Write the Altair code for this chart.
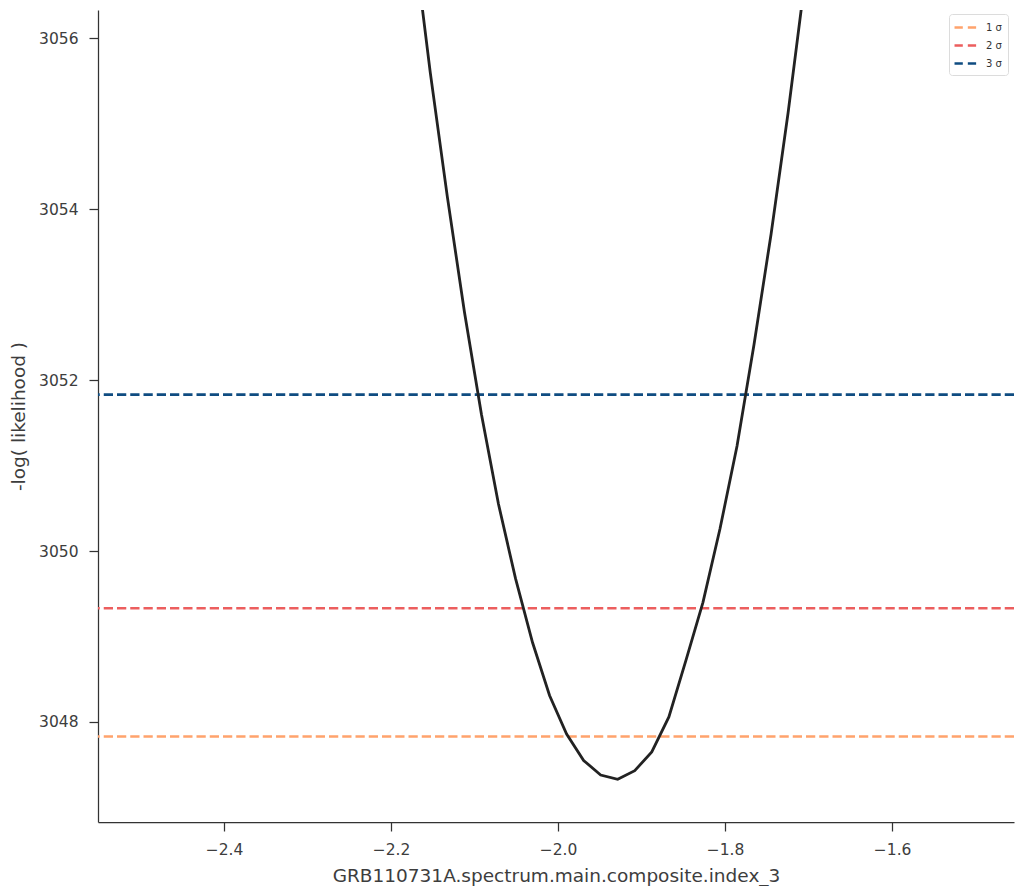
import altair as alt
import pandas as pd

# profile likelihood curve
index_3 = [-2.1735, -2.1531, -2.1327, -2.1122, -2.0918, -2.0714, -2.0510, -2.0306,
           -2.0102, -1.9898, -1.9694, -1.9490, -1.9286, -1.9082, -1.8878, -1.8673,
           -1.8469, -1.8265, -1.8061, -1.7857, -1.7653, -1.7449, -1.7245, -1.7041]
neg_log_like = [3057.21, 3055.60, 3054.15, 3052.80, 3051.60, 3050.55, 3049.68, 3048.93,
                3048.31, 3047.86, 3047.55, 3047.38, 3047.33, 3047.43, 3047.65, 3048.06,
                3048.72, 3049.40, 3050.26, 3051.23, 3052.42, 3053.71, 3055.13, 3056.70]

sigma_labels = ["1 σ", "2 σ", "3 σ"]
sigma_levels = [3047.83, 3049.33, 3051.83]
sigma_colors = ["#ffa36c", "#ec5e5e", "#0f4c81"]

x_ticks = [-2.4, -2.2, -2.0, -1.8, -1.6]
y_ticks = [3048, 3050, 3052, 3054, 3056]
x_domain = [-2.551, -1.454]
y_domain = [3046.83, 3056.33]

curve = pd.DataFrame({"x": index_3, "y": neg_log_like})
levels = pd.DataFrame({"label": sigma_labels, "y": sigma_levels})

FONT = "DejaVu Sans"

xscale = alt.Scale(domain=x_domain, nice=False, zero=False)
yscale = alt.Scale(domain=y_domain, nice=False, zero=False)

line = alt.Chart(curve).mark_line(color="#222222", strokeWidth=2.8, clip=True).encode(
    x=alt.X("x:Q", scale=xscale,
            axis=alt.Axis(values=x_ticks, format=".1f",
                          title="GRB110731A.spectrum.main.composite.index_3",
                          titleY=59, titleBaseline="alphabetic", labelPadding=11)),
    y=alt.Y("y:Q", scale=yscale,
            axis=alt.Axis(values=y_ticks, format="d", title="-log( likelihood )",
                          titleX=-80, titleY=406, titleAngle=270, titleBaseline="middle",
                          titleAlign="center", labelPadding=11)),
)

rules = alt.Chart(levels).mark_rule(strokeWidth=2.6, strokeDash=[9.25, 4]).encode(
    y=alt.Y("y:Q", scale=yscale),
    color=alt.Color("label:N",
                    scale=alt.Scale(domain=sigma_labels, range=sigma_colors),
                    legend=alt.Legend(title=None, orient="none", legendX=851, legendY=4,
                                      symbolType="M-1.33,0L2.33,0", symbolDash=[8.3, 5],
                                      symbolStrokeWidth=2.6, symbolSize=144,
                                      labelOffset=16,
                                      labelFontSize=10, labelFont=FONT, labelColor="#333",
                                      rowPadding=5, padding=6, strokeColor="#dcdcdc",
                                      fillColor="white", cornerRadius=3)),
)

chart = alt.layer(rules, line).properties(
    width=916, height=812,
    autosize=alt.AutoSizeParams(type="none"),
    padding={"left": 90, "top": 2, "right": 2, "bottom": 64},
).configure_view(stroke=None).configure_axis(
    grid=False, domainColor="#333333", domainWidth=1.25, tickColor="#333333",
    tickWidth=1.25, tickSize=9, labelFont=FONT, labelFontSize=15.5, labelColor="#3d3d3d",
    titleFont=FONT, titleFontSize=18.5, titleColor="#3d3d3d", titleFontWeight="normal",
)

chart.save("out.html", embed_options={"renderer": "svg", "actions": False})
